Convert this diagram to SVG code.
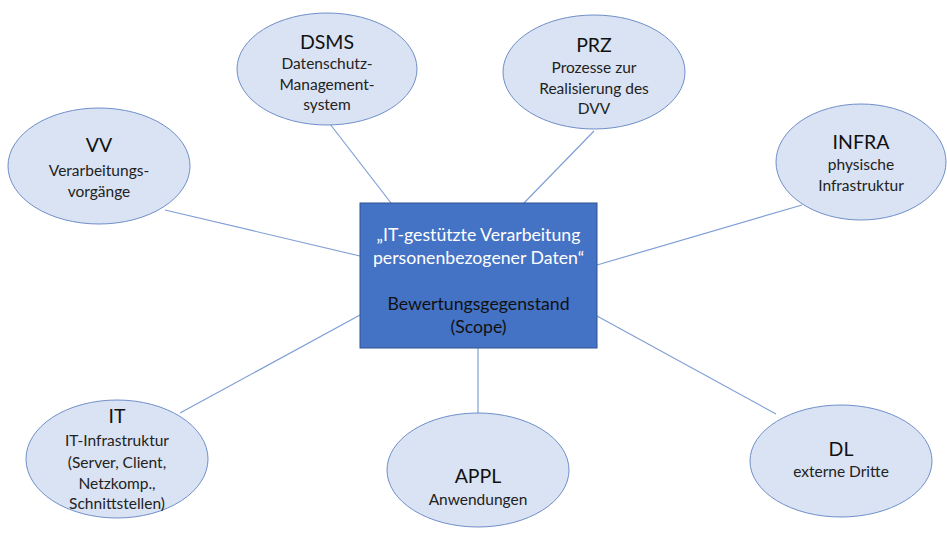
<svg xmlns="http://www.w3.org/2000/svg" width="947" height="537" viewBox="0 0 947 537">
<style>
.n{fill:#dae3f3;stroke:#6f8fc9;stroke-width:1}
.c{stroke:#7f9fd6;stroke-width:1.2;fill:none}
.t{font-family:Lato,"Open Sans","Liberation Sans",sans-serif;font-size:19.5px;fill:#111;text-anchor:middle}
.s{font-family:Lato,"Open Sans","Liberation Sans",sans-serif;font-size:15.5px;fill:#222;text-anchor:middle}
.w{font-family:Lato,"Open Sans","Liberation Sans",sans-serif;font-size:17.7px;fill:#fff;text-anchor:middle}
.b{font-family:Lato,"Open Sans","Liberation Sans",sans-serif;font-size:17.7px;fill:#111;text-anchor:middle}
</style>
<rect width="947" height="537" fill="#fff"/>
<g id="connectors">
<line class="c" x1="165" y1="210" x2="360" y2="256"/>
<line class="c" x1="330" y1="124" x2="391" y2="203"/>
<line class="c" x1="594" y1="131" x2="524" y2="203"/>
<line class="c" x1="802" y1="205" x2="597" y2="265"/>
<line class="c" x1="180" y1="413" x2="360" y2="315"/>
<line class="c" x1="478" y1="348" x2="478" y2="413"/>
<line class="c" x1="776" y1="414" x2="597" y2="316"/>
</g>
<g id="scope">
<rect x="360" y="203" width="237" height="145" fill="#4472c4" stroke="#2f528f" stroke-width="1"/>
<text class="w" x="478.5" y="241">„IT-gestützte Verarbeitung</text>
<text class="w" x="478.5" y="264">personenbezogener Daten“</text>
<text class="b" x="478.5" y="310">Bewertungsgegenstand</text>
<text class="b" x="478.5" y="333">(Scope)</text>
</g>
<g id="vv">
<ellipse class="n" cx="99" cy="166" rx="91" ry="58"/>
<text class="t" x="99" y="152">VV</text>
<text class="s" x="99" y="176">Verarbeitungs-</text>
<text class="s" x="99" y="197">vorgänge</text>
</g>
<g id="dsms">
<ellipse class="n" cx="327" cy="69" rx="90" ry="56"/>
<text class="t" x="327" y="49">DSMS</text>
<text class="s" x="327" y="69">Datenschutz-</text>
<text class="s" x="327" y="90">Management-</text>
<text class="s" x="327" y="110">system</text>
</g>
<g id="prz">
<ellipse class="n" cx="594" cy="72" rx="91" ry="57"/>
<text class="t" x="594" y="52">PRZ</text>
<text class="s" x="594" y="73">Prozesse zur</text>
<text class="s" x="594" y="94">Realisierung des</text>
<text class="s" x="594" y="114">DVV</text>
</g>
<g id="infra">
<ellipse class="n" cx="861" cy="162" rx="85" ry="58"/>
<text class="t" x="861" y="149">INFRA</text>
<text class="s" x="861" y="170">physische</text>
<text class="s" x="861" y="191">Infrastruktur</text>
</g>
<g id="it">
<ellipse class="n" cx="117" cy="459" rx="91" ry="59"/>
<text class="t" x="117" y="423">IT</text>
<text class="s" x="117" y="446">IT-Infrastruktur</text>
<text class="s" x="117" y="468">(Server, Client,</text>
<text class="s" x="117" y="489">Netzkomp.,</text>
<text class="s" x="117" y="509">Schnittstellen)</text>
</g>
<g id="appl">
<ellipse class="n" cx="478" cy="470" rx="91" ry="57"/>
<text class="t" x="478" y="483">APPL</text>
<text class="s" x="478" y="505">Anwendungen</text>
</g>
<g id="dl">
<ellipse class="n" cx="841" cy="461" rx="91" ry="56"/>
<text class="t" x="841" y="456">DL</text>
<text class="s" x="841" y="477">externe Dritte</text>
</g>
</svg>
